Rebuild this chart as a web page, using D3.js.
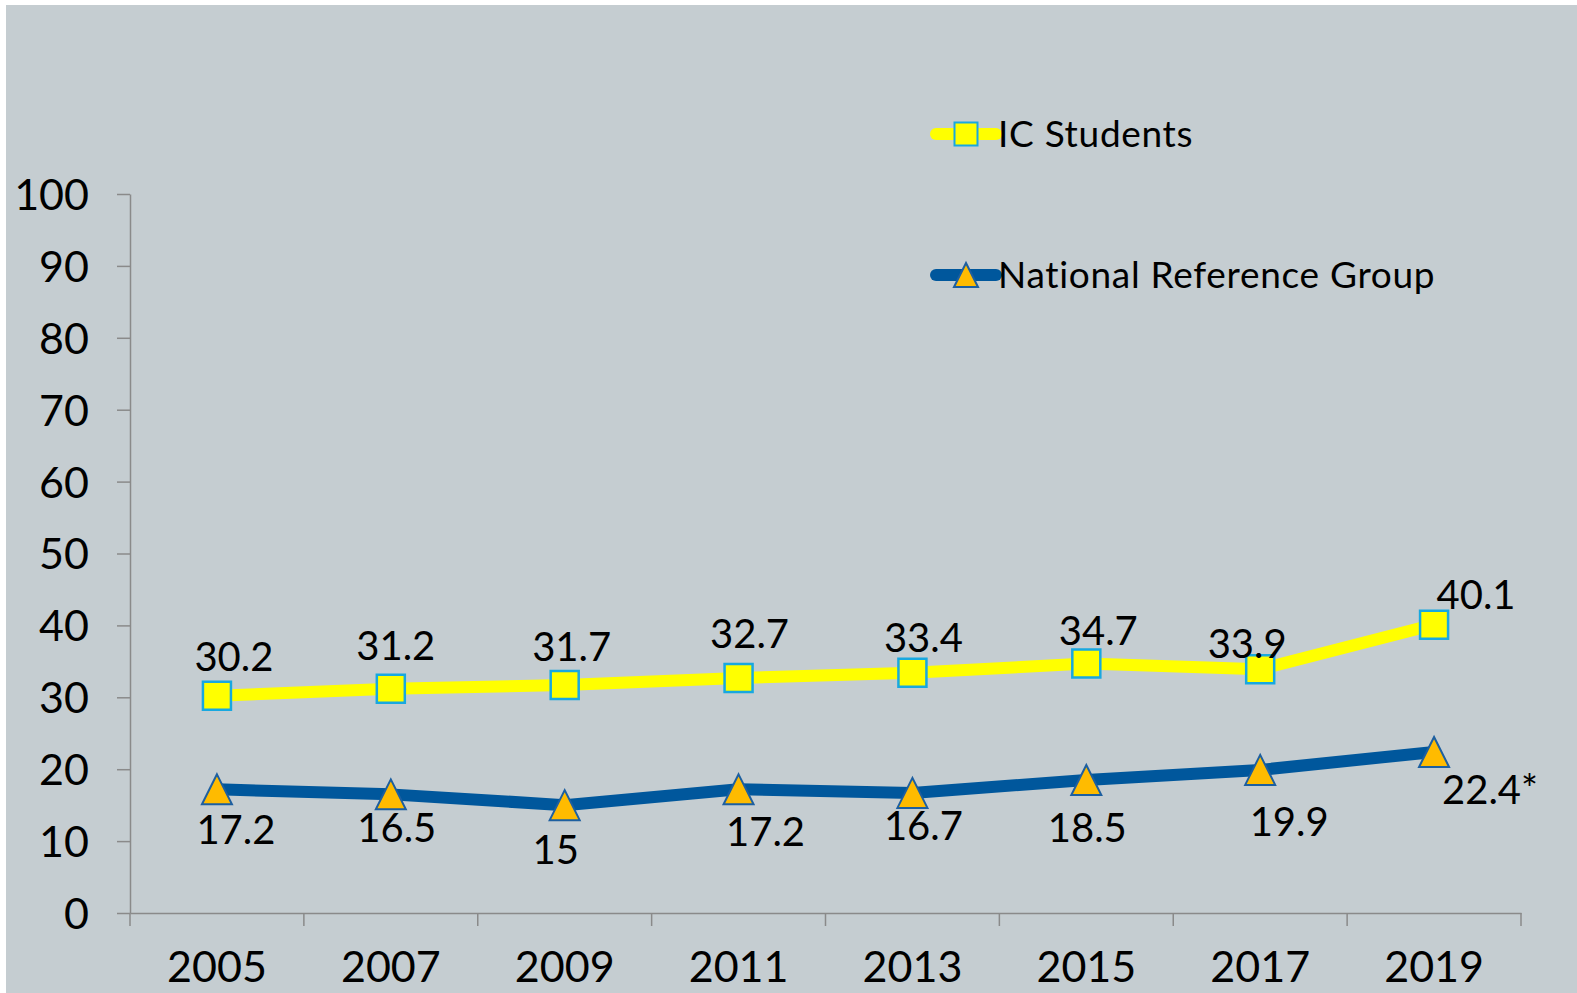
<!DOCTYPE html>
<html>
<head>
<meta charset="utf-8">
<script src="https://cdn.jsdelivr.net/npm/d3@7"></script>
<style>
  html, body { margin: 0; padding: 0; background: #ffffff; }
  svg { display: block; }
  text { font-family: "Century Gothic", Lato, "Noto Sans", sans-serif; fill: #000; }
</style>
</head>
<body>
<svg id="viz"></svg>
<script>
/* Data */

const years = ["2005", "2007", "2009", "2011", "2013", "2015", "2017", "2019"];
const icStudents = [30.2, 31.2, 31.7, 32.7, 33.4, 34.7, 33.9, 40.1];
const nationalGroup = [17.2, 16.5, 15, 17.2, 16.7, 18.5, 19.9, 22.4];
const nationalLabels = ["17.2", "16.5", "15", "17.2", "16.7", "18.5", "19.9", "22.4*"];
const yTicks = [0, 10, 20, 30, 40, 50, 60, 70, 80, 90, 100];

// label nudges in px (hand-placed in the original)
const icLabelOffsets = [[17, -39], [5, -43], [7, -38], [11, -44], [11, -35], [12, -33], [-13, -26], [42, -30]];
const nrgLabelOffsets = [[19, 40], [6, 33], [-9, 44], [27, 42], [11, 33], [1, 48], [29, 52], [56, 38]];

/* Environment */

const width = 1577;
const height = 993;

const svg = d3.select('#viz')
    .attr('width', width)
    .attr('height', height);

svg.append("rect")
    .attr("x", 6).attr("y", 5)
    .attr("width", width - 6).attr("height", height - 5)
    .attr("fill", "#c5cdd1");

/* Scales */

const x = d3.scaleBand()
    .domain(years)
    .range([130, 1521]);

const y = d3.scaleLinear()
    .domain([0, 100])
    .range([913, 194]);

const cx = d => x(d) + x.bandwidth() / 2;

/* Axis */

const axisColor = "#8a8a8a";

const gY = svg.append("g")
    .attr("transform", "translate(130,0)")
    .call(d3.axisLeft(y).tickValues(yTicks).tickSize(13).tickPadding(28).tickSizeOuter(0));

gY.select(".domain").attr("stroke", axisColor).attr("stroke-width", 1.5);
gY.selectAll(".tick line").attr("stroke", axisColor).attr("stroke-width", 1.5);
gY.selectAll(".tick text")
    .attr("font-size", 43)
    .attr("font-family", null)
    .attr("dy", "0.36em");

const gX = svg.append("g")
    .attr("transform", `translate(0,${y(0)})`)
    .call(d3.axisBottom(x).tickSize(0).tickPadding(0).tickSizeOuter(0));

gX.select(".domain").attr("stroke", axisColor).attr("stroke-width", 1.5);
gX.selectAll(".tick text")
    .attr("font-size", 43)
    .attr("font-family", null)
    .attr("y", 69)
    .attr("dy", 0);

const bounds = years.map(d => x(d)).concat([x.range()[1]]);
gX.selectAll(".bound")
    .data(bounds)
    .enter().append("line")
    .attr("class", "bound")
    .attr("x1", d => d).attr("x2", d => d)
    .attr("y1", 0).attr("y2", 13)
    .attr("stroke", axisColor)
    .attr("stroke-width", 1.5);

/* Lines */

const line = d3.line()
    .x((d, i) => cx(years[i]))
    .y(d => y(d));

svg.append("path")
    .datum(nationalGroup)
    .attr("fill", "none")
    .attr("stroke", "#00579c")
    .attr("stroke-width", 12)
    .attr("stroke-linejoin", "round")
    .attr("d", line);

svg.append("path")
    .datum(icStudents)
    .attr("fill", "none")
    .attr("stroke", "#ffff00")
    .attr("stroke-width", 12)
    .attr("stroke-linejoin", "round")
    .attr("d", line);

/* Markers */

const square = d3.symbol().type(d3.symbolSquare).size(28 * 28);
const triangle = s => `M0,${-s / 2}L${s / 2},${s / 2}L${-s / 2},${s / 2}Z`;

svg.append("g")
    .selectAll("path")
    .data(nationalGroup)
    .enter().append("path")
    .attr("transform", (d, i) => `translate(${cx(years[i])},${y(d)})`)
    .attr("d", triangle(30))
    .attr("fill", "#ffbb00")
    .attr("stroke", "#1d5fa0")
    .attr("stroke-width", 2);

svg.append("g")
    .selectAll("path")
    .data(icStudents)
    .enter().append("path")
    .attr("transform", (d, i) => `translate(${cx(years[i])},${y(d)})`)
    .attr("d", square)
    .attr("fill", "#ffff00")
    .attr("stroke", "#18a8e0")
    .attr("stroke-width", 2.5);

/* Data labels */

svg.append("g")
    .selectAll("text")
    .data(icStudents)
    .enter().append("text")
    .attr("x", (d, i) => cx(years[i]) + icLabelOffsets[i][0])
    .attr("y", (d, i) => y(d) + icLabelOffsets[i][1])
    .attr("dy", "0.36em")
    .attr("text-anchor", "middle")
    .attr("font-size", 40)
    .text(d => d);

svg.append("g")
    .selectAll("text")
    .data(nationalGroup)
    .enter().append("text")
    .attr("x", (d, i) => cx(years[i]) + nrgLabelOffsets[i][0])
    .attr("y", (d, i) => y(d) + nrgLabelOffsets[i][1])
    .attr("dy", "0.36em")
    .attr("text-anchor", "middle")
    .attr("font-size", 40)
    .text((d, i) => nationalLabels[i]);

/* Legend */

const legend = [
  {name: "IC Students", stroke: "#ffff00", y: 134, marker: "square"},
  {name: "National Reference Group", stroke: "#00579c", y: 275, marker: "triangle"}
];

const lg = svg.append("g")
    .selectAll("g")
    .data(legend)
    .enter().append("g")
    .attr("transform", d => `translate(966,${d.y})`);

lg.append("line")
    .attr("x1", -30).attr("x2", 30)
    .attr("stroke", d => d.stroke)
    .attr("stroke-width", 12)
    .attr("stroke-linecap", "round");

lg.append("path")
    .attr("d", d => d.marker === "square"
        ? d3.symbol().type(d3.symbolSquare).size(23 * 23)()
        : triangle(24))
    .attr("fill", d => d.marker === "square" ? "#ffff00" : "#ffbb00")
    .attr("stroke", d => d.marker === "square" ? "#18a8e0" : "#1d5fa0")
    .attr("stroke-width", 2);

lg.append("text")
    .attr("x", 32)
    .attr("dy", "0.36em")
    .attr("font-size", 37)
    .attr("letter-spacing", 0.7)
    .text(d => d.name);
</script>
</body>
</html>
